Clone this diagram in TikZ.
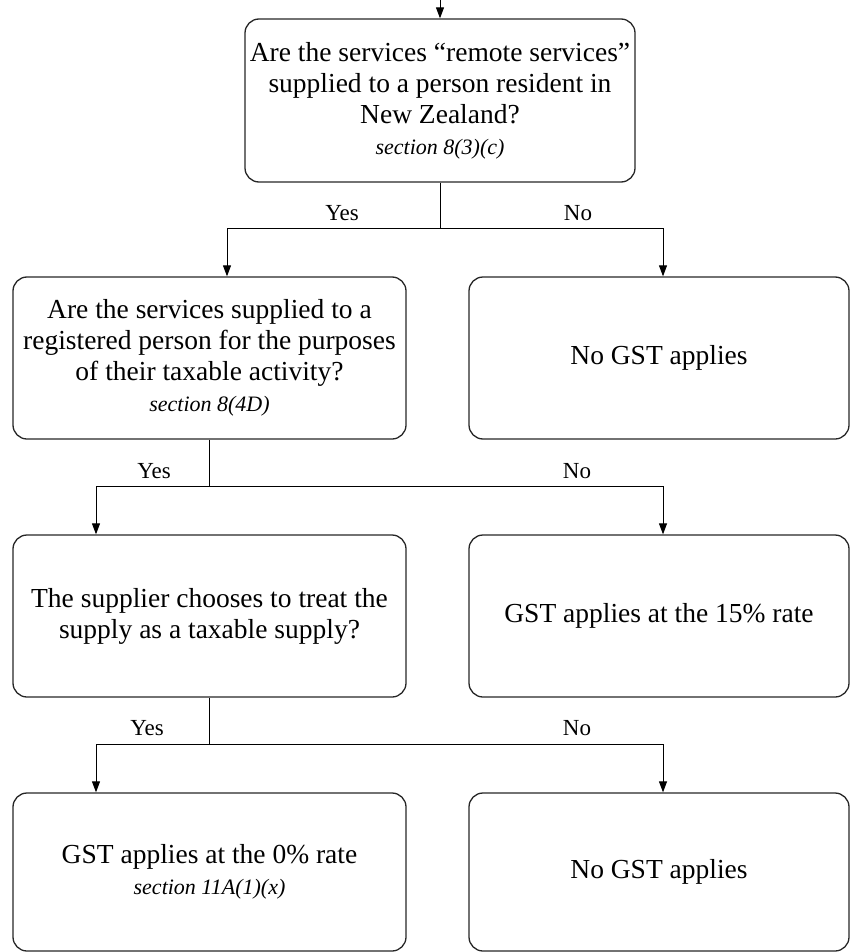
\documentclass[tikz,border=0pt]{standalone}
\usepackage{fontspec}
\setmainfont{Liberation Serif}
\usetikzlibrary{arrows.meta,positioning}
\newcommand{\sect}[1]{{\fontsize{22}{27}\selectfont\itshape #1}}

\begin{document}
\begin{tikzpicture}[x=1pt,y=-1pt,line width=1pt,
  qbox/.style={draw=black!85,line width=1.3pt,rounded corners=14pt,minimum width=393pt,
    minimum height=162pt,inner sep=3pt,align=center,font=\fontsize{27.5}{31}\selectfont},
  abox/.style={qbox,minimum width=380pt},
  arr/.style={-{Triangle[width=8pt,length=11pt]}},
  lbl/.style={font=\fontsize{23}{26}\selectfont}]
  \useasboundingbox (0,0) rectangle (850,952);

  % questions and outcomes
  \node[qbox,minimum width=390pt,minimum height=163pt] (q1) at (440,100.5)
    {Are the services “remote services”\\supplied to a person resident in\\New Zealand?\\\sect{section 8(3)(c)}};
  \node[qbox] (q2) at (209.5,358)
    {Are the services supplied to a\\registered person for the purposes\\of their taxable activity?\\\sect{section 8(4D)}};
  \node[abox] (n1) at (659,358) {No GST applies};
  \node[qbox] (q3) at (209.5,616) {The supplier chooses to treat the\\supply as a taxable supply?};
  \node[abox] (n2) at (659,616) {GST applies at the 15\% rate};
  \node[qbox,minimum height=158pt] (r1) at (209.5,872) {GST applies at the 0\% rate\\\sect{section 11A(1)(x)}};
  \node[abox,minimum height=158pt] (n3) at (659,872) {No GST applies};

  % branch points
  \coordinate (start) at (440,0);
  \coordinate (j1) at (440,228);
  \coordinate (j2) at (209.5,486);
  \coordinate (j3) at (209.5,744);

  \draw[arr] (start) -- (q1.north);
  \draw (q1.south) -- (j1);
  \draw[arr] (j1) -| ([xshift=17.5pt]q2.north);
  \draw[arr] (j1) -| ([xshift=4pt]n1.north);
  \node[lbl] (y1) at (342,213) {Yes};
  \node[lbl] (no1) at (578,213) {No};

  \draw (q2.south) -- (j2);
  \draw[arr] (j2) -| ([xshift=-113.5pt]q3.north);
  \draw[arr] (j2) -| ([xshift=4pt]n2.north);
  \node[lbl] (y2) at (154,471) {Yes};
  \node[lbl] (no2) at (577,471) {No};

  \draw (q3.south) -- (j3);
  \draw[arr] (j3) -| ([xshift=-113.5pt]r1.north);
  \draw[arr] (j3) -| ([xshift=4pt]n3.north);
  \node[lbl] (y3) at (147,728) {Yes};
  \node[lbl] (no3) at (577,728) {No};
\end{tikzpicture}
\end{document}
